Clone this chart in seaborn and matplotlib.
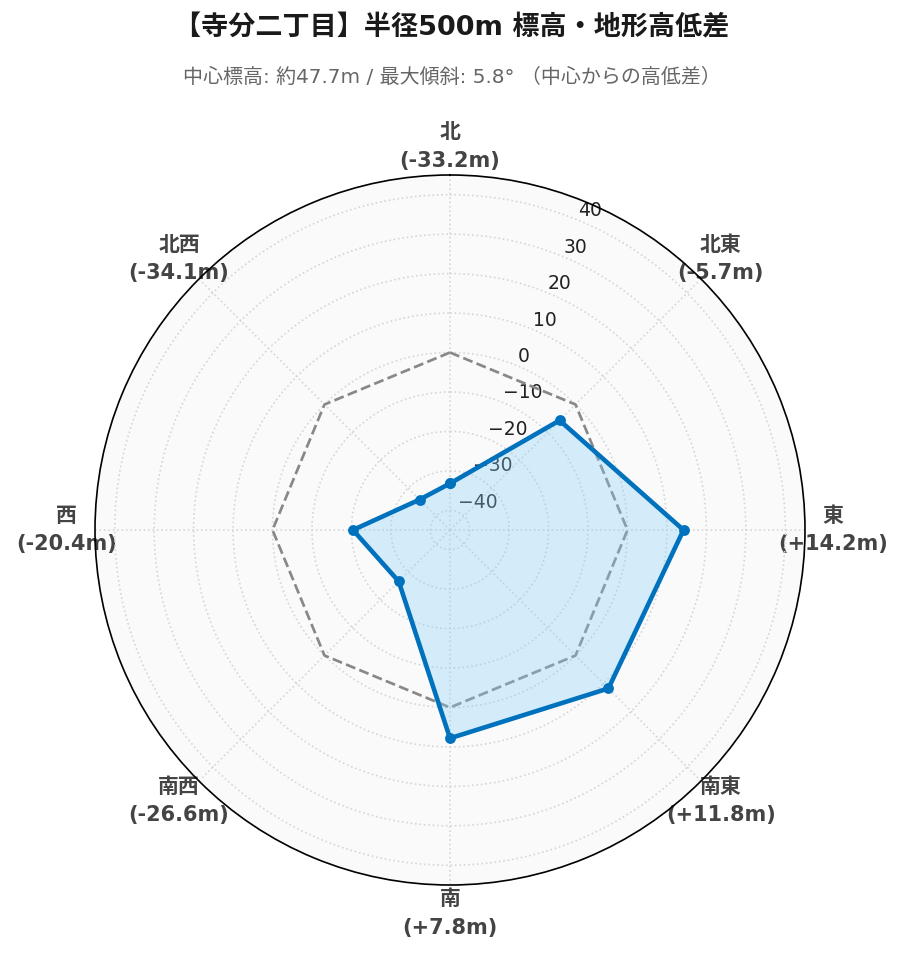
import numpy as np
import pandas as pd
import matplotlib
matplotlib.use("Agg")
import matplotlib.pyplot as plt
import seaborn as sns

# 方位別の高低差 (中心標高との差, m)
DIRECTIONS = ["北", "北東", "東", "南東", "南", "南西", "西", "北西"]
ELEV_DIFF = [-33.2, -5.7, 14.2, 11.8, 7.8, -26.6, -20.4, -34.1]
R_TICKS = [-40, -30, -20, -10, 0, 10, 20, 30, 40]
R_LIM = (-45, 45)

TITLE = "【寺分二丁目】半径500m 標高・地形高低差"
SUBTITLE = "中心標高: 約47.7m / 最大傾斜: 5.8° （中心からの高低差）"

sns.set_theme(style="white")
plt.rcParams["font.family"] = ["DejaVu Sans", "Noto Sans CJK JP"]
plt.rcParams["axes.unicode_minus"] = True

angles = np.deg2rad(np.arange(len(DIRECTIONS)) * 360 / len(DIRECTIONS))
df = pd.DataFrame({"方位": DIRECTIONS, "theta": angles, "高低差": ELEV_DIFF})
closed = pd.concat([df, df.iloc[[0]]], ignore_index=True)

fig = plt.figure(figsize=(903 / 150, 962 / 150), dpi=150)
ax = fig.add_axes([95 / 903, 77 / 962, 710 / 903, 710 / 962], projection="polar")
ax.set_theta_zero_location("N")
ax.set_theta_direction(-1)
ax.set_facecolor("#fafafa")

# 基準線 (高低差 0m)
ax.plot(closed["theta"], np.zeros(len(closed)), color="#888888", lw=1.3, ls="--", zorder=2)

ax.fill(closed["theta"], closed["高低差"], color="lightskyblue", alpha=0.33, lw=0, zorder=2)
sns.lineplot(data=closed, x="theta", y="高低差", sort=False, estimator=None, ax=ax,
             color="#0072BD", lw=2.2, marker="o", markersize=5.2, markeredgewidth=0, zorder=3)

ax.set_ylim(*R_LIM)
ax.set_yticks(R_TICKS)
ax.set_xticks(angles)
labels = [f"{d}\n({v:+.1f}m)" for d, v in zip(DIRECTIONS, ELEV_DIFF)]
ax.set_xticklabels(labels, fontsize=10, fontweight="bold", color="#444444", linespacing=1.55)
ax.tick_params(axis="x", pad=0.5)
ax.tick_params(axis="y", labelsize=9, labelcolor="#222222")
ax.grid(True, color="#d6d6d6", ls=":", lw=0.8)
ax.spines["polar"].set_color("black")
ax.spines["polar"].set_linewidth(0.8)
ax.set_xlabel("")
ax.set_ylabel("")

fig.text(0.5, 1 - 28 / 962, TITLE, ha="center", va="center", fontsize=13, fontweight="bold", color="#1a1a1a")
fig.text(0.5, 1 - 77 / 962, SUBTITLE, ha="center", va="center", fontsize=9.6, color="#666666")

fig.savefig("out.png", dpi=150)
